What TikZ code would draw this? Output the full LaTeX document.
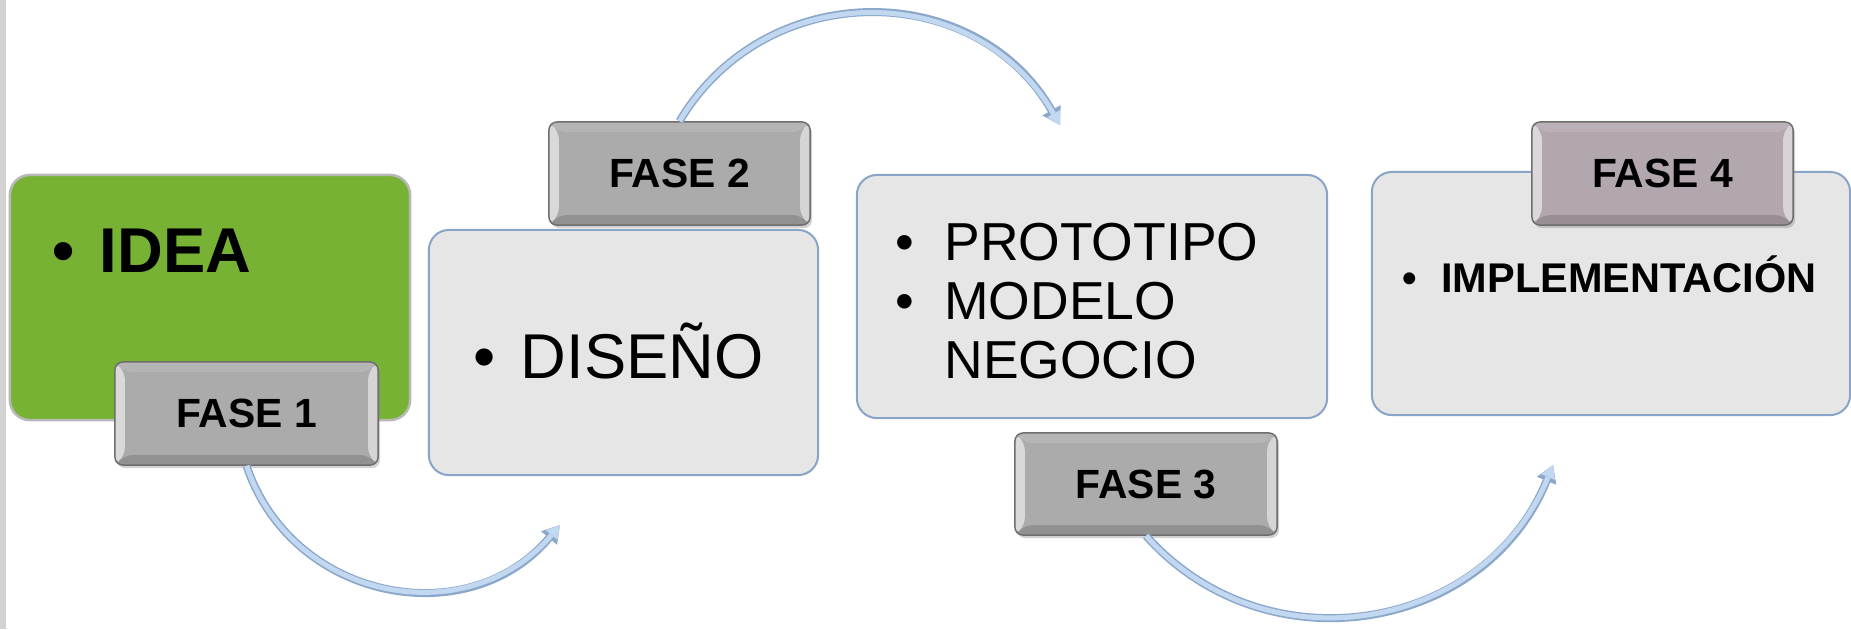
\documentclass[tikz,border=0pt]{standalone}
\usepackage{fontspec}
\setmainfont{Liberation Sans}
\usetikzlibrary{arrows.meta,shadows}

\definecolor{ideagreen}{HTML}{77B234}
\definecolor{ideaedge}{HTML}{B8B8B8}
\definecolor{boxgray}{HTML}{E6E6E6}
\definecolor{boxedge}{HTML}{88A4C7}
\definecolor{fasegray}{HTML}{ABABAB}
\definecolor{fasemauve}{HTML}{B3A7AF}
\definecolor{faseedge}{HTML}{6E6E6E}
\definecolor{arrowfill}{HTML}{C2D7F0}
\definecolor{arrowedge}{HTML}{8BA8CB}
\definecolor{stripgray}{HTML}{D2D2D2}

\newcommand{\itm}[1][0.25cm]{•\hspace{#1}}
\newcommand{\noitm}[1][0.25cm]{\phantom{•}\hspace{#1}}

\tikzset{
  box/.style={rectangle, rounded corners=0.2cm, line width=0.02cm, draw=boxedge, fill=boxgray},
  fase/.style={rectangle, rounded corners=0.08cm, line width=0.015cm, draw=faseedge, fill=fasegray,
    font=\fontsize{11.6}{13}\selectfont\bfseries,
    drop shadow={opacity=0.35, shadow xshift=0.02cm, shadow yshift=-0.03cm},
    path picture={
      \fill[white, opacity=0.55] (path picture bounding box.north west) -- ([xshift=0.1cm,yshift=-0.1cm]path picture bounding box.north west)
        -- ([xshift=0.1cm,yshift=0.1cm]path picture bounding box.south west) -- (path picture bounding box.south west) -- cycle;
      \fill[white, opacity=0.5] (path picture bounding box.north east) -- ([xshift=-0.1cm,yshift=-0.1cm]path picture bounding box.north east)
        -- ([xshift=-0.1cm,yshift=0.1cm]path picture bounding box.south east) -- (path picture bounding box.south east) -- cycle;
      \fill[black, opacity=0.15] (path picture bounding box.south west) -- ([xshift=0.1cm,yshift=0.1cm]path picture bounding box.south west)
        -- ([xshift=-0.1cm,yshift=0.1cm]path picture bounding box.south east) -- (path picture bounding box.south east) -- cycle;
      \fill[white, opacity=0.12] (path picture bounding box.north west) -- ([xshift=0.1cm,yshift=-0.1cm]path picture bounding box.north west)
        -- ([xshift=-0.1cm,yshift=-0.1cm]path picture bounding box.north east) -- (path picture bounding box.north east) -- cycle;
    }},
  txt/.style={inner sep=0, align=left},
  flow/.style={line width=0.05cm, draw=arrowfill, -{Triangle[length=0.13cm,width=0.15cm,line width=0pt]},
    preaction={draw=arrowedge, line width=0.08cm, -{Triangle[length=0.17cm,width=0.21cm,line width=0pt]}}}
}

\begin{document}
\begin{tikzpicture}[x=0.01cm, y=-0.01cm]
\useasboundingbox (0,0) rectangle (1851,629);
\fill[white] (0,0) rectangle (1851,629);
\fill[stripgray] (0,0) rectangle (6,629);

% boxes
\node[box, fill=ideagreen, draw=ideaedge, line width=0.025cm, minimum width=4cm, minimum height=2.45cm] (idea) at (210,297.5) {};
\node[box, minimum width=3.89cm, minimum height=2.45cm] (diseno) at (623.5,352.5) {};
\node[box, minimum width=4.7cm, minimum height=2.43cm] (proto) at (1092,296.5) {};
\node[box, minimum width=4.78cm, minimum height=2.43cm] (impl) at (1611,293.5) {};

% texts
\node[txt, font=\fontsize{18}{20}\selectfont\bfseries, anchor=base west] (idea text) at (52,272) {\itm IDEA};
\node[txt, font=\fontsize{18}{20}\selectfont, anchor=base west] (diseno text) at (473,378) {\itm DISEÑO};
\node[txt, font=\fontsize{15.2}{16.9}\selectfont, anchor=north west] (proto text) at (895,222)
  {\itm[0.3cm]PROTOTIPO\\\itm[0.3cm]MODELO\\\noitm[0.3cm]NEGOCIO};
\node[txt, font=\fontsize{11.8}{13}\selectfont\bfseries, anchor=base west] (impl text) at (1402,292) {\itm[0.24cm]IMPLEMENTACIÓN};

% labels
\node[fase, minimum width=2.63cm, minimum height=1.03cm] (f1) at (246.5,413.5) {FASE 1};
\node[fase, minimum width=2.61cm, minimum height=1.03cm] (f2) at (679.5,173.5) {FASE 2};
\node[fase, minimum width=2.62cm, minimum height=1.02cm] (f3) at (1146,484) {FASE 3};
\node[fase, fill=fasemauve, minimum width=2.61cm, minimum height=1.03cm] (f4) at (1662.5,173.5) {FASE 4};

% arrows
\coordinate (a1end) at (560,525);
\coordinate (a2end) at (1060,125);
\coordinate (a3end) at (1553,465);
\draw[flow] (f1.south) .. controls (292,601) and (468,634) .. (a1end);
\draw[flow] (f2.north) .. controls (766,-24) and (976,-21) .. (a2end);
\draw[flow] (f3.south) .. controls (1266,670) and (1485,632) .. (a3end);
\end{tikzpicture}
\end{document}
